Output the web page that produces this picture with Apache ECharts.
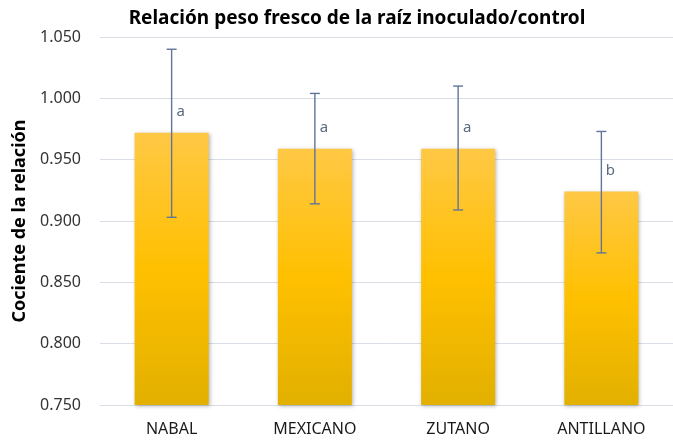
<!DOCTYPE html>
<html>
<head>
<meta charset="utf-8">
<script src="https://cdn.jsdelivr.net/npm/echarts@6/dist/echarts.min.js"></script>
<style>
  html, body { margin: 0; padding: 0; background: #fff; }
  #chart { width: 673px; height: 441px; }
</style>
</head>
<body>
<div id="chart"></div>
<script>
// datos
const categories = ['NABAL', 'MEXICANO', 'ZUTANO', 'ANTILLANO'];
const values = [0.972, 0.959, 0.959, 0.924];
const errLow = [0.903, 0.914, 0.909, 0.874];
const errHigh = [1.040, 1.004, 1.010, 0.973];
const letters = ['a', 'a', 'a', 'b'];

const font = "'Noto Sans', 'Open Sans', sans-serif";

const chart = echarts.init(document.getElementById('chart'));

const errData = categories.map((c, i) => [i, errLow[i], errHigh[i]]);

const option = {
  backgroundColor: '#fff',
  animation: false,
  title: {
    text: 'Relación peso fresco de la raíz inoculado/control',
    left: 352,
    textAlign: 'center',
    top: 4,
    textStyle: { fontFamily: font, fontWeight: 'bold', fontSize: 19, color: '#000' }
  },
  grid: { left: 100, right: -9, top: 37, bottom: 36 },
  xAxis: {
    type: 'category',
    data: categories,
    axisLine: { lineStyle: { color: '#D9DEE6', width: 1 } },
    axisTick: { show: false },
    axisLabel: { color: '#1a1a1a', fontFamily: font, fontSize: 16, margin: 16 }
  },
  yAxis: {
    type: 'value',
    min: 0.75,
    max: 1.05,
    interval: 0.05,
    name: 'Cociente de la relación',
    nameLocation: 'middle',
    nameGap: 70,
    nameTextStyle: { fontFamily: font, fontWeight: 'bold', fontSize: 18, color: '#000' },
    axisLine: { show: false },
    axisTick: { show: false },
    splitLine: { lineStyle: { color: '#D9DEE6', width: 1 } },
    axisLabel: {
      color: '#333',
      fontFamily: font,
      fontSize: 16,
      margin: 19,
      formatter: v => v.toFixed(3)
    }
  },
  series: [
    {
      type: 'bar',
      data: values,
      barWidth: 74,
      itemStyle: {
        color: new echarts.graphic.LinearGradient(0, 0, 0, 1, [
          { offset: 0, color: '#FFC845' },
          { offset: 0.5, color: '#FFC000' },
          { offset: 1, color: '#E2B000' }
        ]),
        shadowColor: 'rgba(0,0,0,0.3)',
        shadowBlur: 4,
        shadowOffsetX: 1,
        shadowOffsetY: 1
      },
      label: {
        show: true,
        position: 'top',
        distance: 5,
        offset: [9, -8],
        color: '#5A6A82',
        fontFamily: font,
        fontSize: 15,
        formatter: p => letters[p.dataIndex]
      },
      z: 2
    },
    {
      type: 'custom',
      data: errData,
      z: 3,
      renderItem: (params, api) => {
        const x = api.value(0);
        const lo = api.coord([x, api.value(1)]);
        const hi = api.coord([x, api.value(2)]);
        const half = 5;
        const style = { stroke: '#61759A', lineWidth: 1.4 };
        return {
          type: 'group',
          children: [
            { type: 'line', shape: { x1: hi[0], y1: hi[1], x2: lo[0], y2: lo[1] }, style },
            { type: 'line', shape: { x1: hi[0] - half, y1: hi[1], x2: hi[0] + half, y2: hi[1] }, style },
            { type: 'line', shape: { x1: lo[0] - half, y1: lo[1], x2: lo[0] + half, y2: lo[1] }, style }
          ]
        };
      }
    }
  ]
};

chart.setOption(option);
window.addEventListener('resize', () => chart.resize());
</script>
</body>
</html>
